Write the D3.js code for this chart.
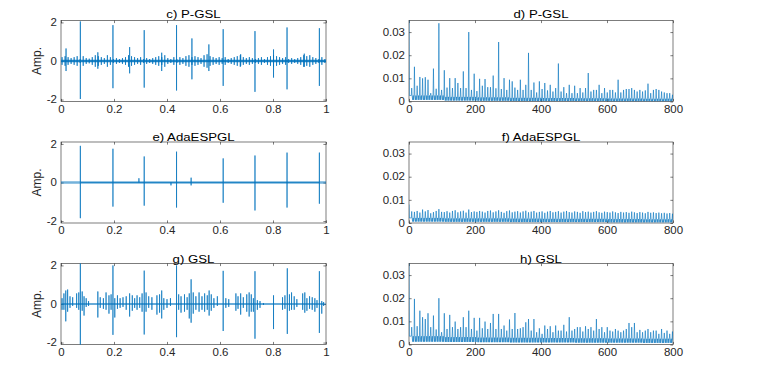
<!DOCTYPE html>
<html>
<head>
<meta charset="utf-8">
<title></title>
<style>
  body { margin: 0; background: #fff; }
  text { font-family: "Liberation Sans", Arial, Helvetica, sans-serif; }
</style>
</head>
<body>
<script src="https://d3js.org/d3.v7.min.js"></script>
<script type="text/javascript">

    // ticks and titles
    var timeTicks = [0, 0.2, 0.4, 0.6, 0.8, 1];
    var ampTicks = [-2, 0, 2];
    var freqTicks = [0, 200, 400, 600, 800];
    var specTicks = [0, 0.01, 0.02, 0.03];
    var timeTitles = ['c) P-GSL', 'e) AdaESPGL', 'g) GSL'];
    var specTitles = ['d) P-GSL', 'f) AdaESPGL', 'h) GSL'];

    // time signals: stems as [t, max, min]
    var pgslStems = [
        [0.019, 0.65, -0.52], [0.073, 2.05, -1.97], [0.139, 0.45, -0.4], [0.196, 1.86, -1.41],
        [0.259, 0.72, -0.64], [0.314, 1.6, -1.38], [0.380, 0.43, -0.52], [0.436, 1.86, -1.53],
        [0.494, 1.17, -0.95], [0.558, 0.86, -0.52], [0.612, 1.65, -1.29], [0.678, 0.35, -0.25],
        [0.732, 1.55, -1.6], [0.802, 0.6, -0.86], [0.853, 1.74, -1.47], [0.918, 0.38, -0.3],
        [0.975, 1.7, -1.29]
    ];
    // small ripple between the impulses (one tick every rippleStep s)
    var rippleStart = 0.004;
    var rippleStep = 0.0114;
    var pgslRipple = [
        0.2, 0.25, 0.2, 0.15, 0.2, 0.25, 0.1, 0.25, 0.15, 0.12,
        0.2, 0.3, 0.25, 0.2, 0.15, 0.3, 0.2, 0.1, 0.15, 0.1,
        0.15, 0.2, 0.3, 0.25, 0.2, 0.15, 0.2, 0.1, 0.15, 0.1,
        0.15, 0.2, 0.25, 0.2, 0.3, 0.15, 0.1, 0.2, 0.1, 0.2,
        0.15, 0.25, 0.3, 0.2, 0.25, 0.2, 0.15, 0.3, 0.35, 0.25,
        0.2, 0.15, 0.2, 0.15, 0.2, 0.1, 0.15, 0.2, 0.25, 0.3,
        0.2, 0.15, 0.2, 0.15, 0.1, 0.15, 0.2, 0.1, 0.2, 0.25,
        0.3, 0.25, 0.2, 0.15, 0.2, 0.1, 0.15, 0.1, 0.15, 0.2,
        0.3, 0.25, 0.3, 0.2, 0.15, 0.1, 0.2, 0.1
    ];
    var adaStems = [
        [0.073, 1.9, -1.85], [0.196, 1.75, -1.25], [0.294, 0.22, 0], [0.314, 1.35, -1.2],
        [0.415, 0, -0.15], [0.436, 1.6, -1.3], [0.491, 0.25, -0.15], [0.612, 1.25, -1.05],
        [0.732, 1.4, -1.45], [0.853, 1.55, -1.3], [0.975, 1.55, -1.1]
    ];
    var gslStems = [
        [0.004, 0.3, -0.3], [0.011, 0.55, -0.3], [0.018, 0.7, -0.9], [0.025, 0.75, -0.4],
        [0.034, 0.4, -0.2], [0.044, 0.35, -0.1], [0.059, 0.55, -0.2], [0.067, 0.6, -0.3],
        [0.073, 2.6, -2.6], [0.080, 0.65, -0.35], [0.087, 0.4, -0.6], [0.095, 0.3, -0.15],
        [0.104, 0.15, -0.1], [0.139, 0.65, -0.7], [0.148, 0.35, -0.2], [0.160, 0.3, -0.25],
        [0.170, 0.6, -0.3], [0.181, 0.45, -0.5], [0.189, 0.5, -0.3], [0.196, 2.0, -1.6],
        [0.203, 0.3, -0.7], [0.213, 0.45, -0.25], [0.223, 0.3, -0.2], [0.234, 0.35, -0.15],
        [0.246, 0.4, -0.3], [0.259, 0.55, -0.65], [0.269, 0.45, -0.35], [0.278, 0.3, -0.2],
        [0.287, 0.45, -0.3], [0.297, 0.35, -0.2], [0.306, 0.55, -0.4], [0.314, 1.73, -1.58],
        [0.321, 0.6, -0.4], [0.331, 0.4, -0.2], [0.343, 0.35, -0.3], [0.362, 0.45, -0.55],
        [0.372, 0.5, -0.45], [0.380, 0.7, -0.75], [0.388, 0.3, -0.3], [0.400, 0.25, -0.2],
        [0.413, 0.3, -0.1], [0.436, 2.0, -1.72], [0.444, 0.5, -0.3], [0.453, 0.4, -0.45],
        [0.466, 0.5, -0.4], [0.476, 0.35, -0.3], [0.484, 0.55, -0.75], [0.491, 1.28, -0.97],
        [0.499, 0.6, -0.5], [0.509, 0.4, -0.3], [0.521, 0.6, -0.4], [0.532, 0.4, -0.3],
        [0.542, 0.55, -0.4], [0.552, 0.45, -0.3], [0.559, 0.7, -0.6], [0.567, 0.5, -0.35],
        [0.577, 0.3, -0.2], [0.590, 0.4, -0.1], [0.612, 1.72, -1.4], [0.622, 0.3, -0.2],
        [0.633, 0.25, -0.15], [0.660, 0.55, -0.35], [0.668, 0.4, -0.25], [0.678, 0.55, -0.55],
        [0.688, 0.35, -0.2], [0.701, 0.5, -0.4], [0.710, 0.6, -0.65], [0.718, 0.5, -0.4],
        [0.726, 0.3, -0.4], [0.732, 1.7, -1.8], [0.741, 0.2, -0.3], [0.751, 0.15, -0.2],
        [0.764, 0.05, -0.05], [0.802, 0.45, -1.3], [0.836, 0.35, -0.3], [0.845, 0.45, -0.25],
        [0.854, 1.85, -1.55], [0.862, 0.5, -0.35], [0.870, 0.6, -0.3], [0.880, 0.4, -0.3],
        [0.890, 0.25, -0.15], [0.912, 0.55, -0.3], [0.920, 0.6, -0.45], [0.928, 0.3, -0.35],
        [0.938, 0.4, -0.25], [0.948, 0.35, -0.3], [0.958, 0.3, -0.4], [0.966, 0.2, -0.2],
        [0.975, 1.7, -1.5], [0.984, 0.15, -0.5], [0.991, 0.1, -0.1]
    ];

    // envelope spectra: one peak per harmonic of the fault frequency (Hz)
    var faultFreq = 8.23;
    var pgslPeaks = [
        0.0058, 0.015, 0.0068, 0.0106, 0.010, 0.0105, 0.0094, 0.0036, 0.0142, 0.0055,
        0.0338, 0.005, 0.0135, 0.006, 0.0101, 0.0058, 0.0101, 0.008, 0.0058, 0.013,
        0.0058, 0.030, 0.005, 0.012, 0.0045, 0.0098, 0.0068, 0.0097, 0.0062, 0.0062,
        0.0112, 0.0057, 0.0257, 0.0054, 0.0101, 0.005, 0.0094, 0.0087, 0.006, 0.005,
        0.0094, 0.005, 0.0072, 0.021, 0.005, 0.0082, 0.0039, 0.0087, 0.0054, 0.008,
        0.0048, 0.0072, 0.0043, 0.0058, 0.0164, 0.0043, 0.0062, 0.0036, 0.0072, 0.0036,
        0.0068, 0.0036, 0.0058, 0.0039, 0.0058, 0.0123, 0.0043, 0.005, 0.005, 0.0072,
        0.0036, 0.0058, 0.0039, 0.005, 0.005, 0.0039, 0.0094, 0.0039, 0.005, 0.0054,
        0.0054, 0.0058, 0.005, 0.0043, 0.005, 0.0043, 0.0048, 0.0077, 0.0036, 0.005,
        0.0054, 0.005, 0.0043, 0.0039, 0.0036, 0.0036, 0.0029
    ];
    var adaPeaks = [
        0.0050, 0.0048, 0.0052, 0.0045, 0.0058, 0.0050, 0.0056, 0.0042, 0.0047, 0.0052,
        0.0060, 0.0048, 0.0047, 0.0051, 0.0045, 0.0052, 0.0055, 0.0046, 0.0050, 0.0053,
        0.0045, 0.0058, 0.0047, 0.0050, 0.0048, 0.0052, 0.0049, 0.0045, 0.0052, 0.0054,
        0.0046, 0.0050, 0.0055, 0.0048, 0.0044, 0.0051, 0.0054, 0.0046, 0.0049, 0.0051,
        0.0045, 0.0050, 0.0053, 0.0046, 0.0049, 0.0052, 0.0045, 0.0048, 0.0050, 0.0044,
        0.0049, 0.0052, 0.0046, 0.0048, 0.0051, 0.0045, 0.0049, 0.0052, 0.0047, 0.0045,
        0.0050, 0.0048, 0.0044, 0.0051, 0.0047, 0.0049, 0.0045, 0.0048, 0.0051, 0.0046,
        0.0044, 0.0049, 0.0047, 0.0045, 0.0050, 0.0046, 0.0043, 0.0048, 0.0045, 0.0047,
        0.0044, 0.0049, 0.0046, 0.0043, 0.0047, 0.0045, 0.0042, 0.0048, 0.0044, 0.0046,
        0.0043, 0.0045, 0.0042, 0.0044, 0.0041, 0.0043, 0.0040
    ];
    var gslPeaks = [
        0.0075, 0.0197, 0.0079, 0.0146, 0.0118, 0.0110, 0.0135, 0.0075, 0.0125, 0.0065,
        0.0200, 0.0053, 0.0135, 0.0067, 0.0128, 0.0075, 0.0099, 0.0067, 0.0075, 0.0118,
        0.0075, 0.0146, 0.0067, 0.0115, 0.0060, 0.0115, 0.0070, 0.0099, 0.0067, 0.0093,
        0.0132, 0.0067, 0.0132, 0.0067, 0.0082, 0.0060, 0.0108, 0.0067, 0.0136, 0.0067,
        0.0070, 0.0075, 0.0096, 0.0110, 0.0060, 0.0110, 0.0053, 0.0070, 0.0046, 0.0082,
        0.0067, 0.0079, 0.0053, 0.0082, 0.0060, 0.0060, 0.0085, 0.0056, 0.0118, 0.0060,
        0.0067, 0.0075, 0.0075, 0.0056, 0.0079, 0.0067, 0.0075, 0.0060, 0.0110, 0.0067,
        0.0075, 0.0053, 0.0075, 0.0060, 0.0056, 0.0067, 0.0060, 0.0053, 0.0060, 0.0067,
        0.0093, 0.0075, 0.0093, 0.0053, 0.0063, 0.0053, 0.0060, 0.0067, 0.0053, 0.0060,
        0.0060, 0.0046, 0.0067, 0.0050, 0.0060, 0.0046, 0.0056
    ];
    // noise floor and dips between harmonics, per 100 Hz band
    var pgslFloor = [0.0026, 0.002, 0.0018, 0.0016, 0.0015, 0.0014, 0.0013, 0.0012];
    var pgslDip = [0.0007, 0.0004, 0.0003, 0.0002, 0.0002, 0.0002, 0.0001, 0.0001];
    var adaFloor = [0.0022, 0.002, 0.002, 0.0019, 0.0018, 0.0018, 0.0017, 0.0016];
    var adaDip = [0.0006, 0.0005, 0.0005, 0.0004, 0.0004, 0.0004, 0.0003, 0.0003];
    var gslFloor = [0.0036, 0.0032, 0.003, 0.0029, 0.0028, 0.0027, 0.0026, 0.0025];
    var gslDip = [0.0012, 0.0011, 0.001, 0.0009, 0.0009, 0.0008, 0.0008, 0.0007];
    var dcLevel = [0.036, 0.008, 0.036];

    var blue = '#0072BD';
    var axisColor = '#262626';
    var colX = [[61, 326], [409, 673]];
    var rowTop = [20.5, 142, 263.5];
    var titleGap = [3, 1.5, 0.8];
    var plotH = 81;
    var tickLen = 2.6;
    var stretch = 1.15;

    var svg = d3.select('body')
                .append('svg')
                    .attr('width', 766)
                    .attr('height', 370);

    // labels in the reference are slightly wider than tall
    function widen(sel) {
        sel.each(function() {
            var t = d3.select(this);
            var x = +t.attr('x') || 0, y = +t.attr('y') || 0;
            t.attr('x', 0).attr('y', 0)
             .attr('transform', 'translate(' + x + ',' + y + ') scale(' + stretch + ',1)');
        });
    }

    function drawAxes(x, y, xTicks, yTicks, id) {
        var g = svg.append('g').attr('color', axisColor);
        var x0 = x.range()[0], x1 = x.range()[1], y0 = y.range()[0], y1 = y.range()[1];
        var fmt = function(d) { return String(d); };

        g.append('g').attr('transform', 'translate(0,' + y0 + ')')
            .call(d3.axisBottom(x).tickValues(xTicks).tickSizeInner(-tickLen).tickSizeOuter(0)
                  .tickPadding(4).tickFormat(fmt));
        g.append('g').attr('transform', 'translate(0,' + y1 + ')')
            .call(d3.axisTop(x).tickValues(xTicks).tickSizeInner(-tickLen).tickSizeOuter(0)
                  .tickFormat(''));
        g.append('g').attr('transform', 'translate(' + x0 + ',0)')
            .call(d3.axisLeft(y).tickValues(yTicks).tickSizeInner(-tickLen).tickSizeOuter(0)
                  .tickPadding(4).tickFormat(fmt));
        g.append('g').attr('transform', 'translate(' + x1 + ',0)')
            .call(d3.axisRight(y).tickValues(yTicks).tickSizeInner(-tickLen).tickSizeOuter(0)
                  .tickFormat(''));

        g.selectAll('.domain').remove();
        g.selectAll('.tick line').attr('stroke-width', 0.6);
        g.selectAll('.tick text')
            .attr('font-family', '"Liberation Sans", Arial, sans-serif')
            .attr('font-size', 10)
            .attr('fill', axisColor)
            .call(widen);

        g.append('rect')
            .attr('x', x0).attr('y', y1)
            .attr('width', x1 - x0).attr('height', y0 - y1)
            .attr('fill', 'none')
            .attr('stroke', axisColor)
            .attr('stroke-width', 0.6);

        svg.append('clipPath').attr('id', id)
            .append('rect')
            .attr('x', x0).attr('y', y1)
            .attr('width', x1 - x0).attr('height', y0 - y1);
    }

    function addTitle(x, y, label, r) {
        svg.append('text')
            .attr('x', (x.range()[0] + x.range()[1]) / 2)
            .attr('y', y.range()[1] - titleGap[r])
            .attr('text-anchor', 'middle')
            .attr('font-size', 11.5)
            .attr('fill', '#000')
            .text(label)
            .call(widen);
    }

    function stemPoints(stems) {
        var pts = [];
        stems.forEach(function(s) {
            pts.push([s[0], 0], [s[0], s[1]], [s[0], s[2]], [s[0], 0]);
        });
        return pts;
    }

    function specPoints(peaks, floor, dip, dc) {
        var f = faultFreq;
        var band = function(k) { return Math.min(7, Math.floor(k / 100)); };
        var pts = [[0, dc], [1, floor[0]]];
        peaks.forEach(function(p, i) {
            var k = (i + 1) * f, b = band(k);
            pts.push([k - 0.15 * f, floor[b]], [k, p], [k + 0.15 * f, floor[b]],
                     [k + 0.35 * f, dip[b]], [k + 0.55 * f, floor[b]], [k + 0.7 * f, dip[b]]);
        });
        pts.push([800, floor[7]]);
        return pts;
    }

    // time-domain panels
    var timeStems = [
        stemPoints(pgslStems.concat(pgslRipple.map(function(a, i) {
            return [rippleStart + i * rippleStep, a, -a];
        })).sort(function(a, b) { return a[0] - b[0]; })),
        stemPoints(adaStems),
        stemPoints(gslStems)
    ];
    var baseWidth = [2.4, 2.6, 1.2];
    var baseOpacity = [0.8, 0.55, 0.75];

    timeStems.forEach(function(pts, r) {
        var x = d3.scaleLinear().domain([0, 1]).range(colX[0]);
        var y = d3.scaleLinear().domain([-2.1, 2.1]).range([rowTop[r] + plotH, rowTop[r]]);
        var id = 'clipT' + r;
        drawAxes(x, y, timeTicks, ampTicks, id);

        var line = d3.line().x(function(d) { return x(d[0]); }).y(function(d) { return y(d[1]); });
        var g = svg.append('g').attr('clip-path', 'url(#' + id + ')');
        g.append('path')
            .attr('d', line([[0, 0], [1, 0]]))
            .attr('fill', 'none')
            .attr('stroke', blue)
            .attr('stroke-opacity', baseOpacity[r])
            .attr('stroke-width', baseWidth[r]);
        g.append('path')
            .attr('d', line(pts))
            .attr('fill', 'none')
            .attr('stroke', blue)
            .attr('stroke-width', 0.7);

        addTitle(x, y, timeTitles[r], r);
        svg.append('text')
            .attr('transform', 'translate(41,' + (rowTop[r] + plotH / 2) + ') rotate(-90)')
            .attr('text-anchor', 'middle')
            .attr('font-size', 12)
            .attr('fill', axisColor)
            .text('Amp.');
    });

    // spectrum panels
    var specs = [
        specPoints(pgslPeaks, pgslFloor, pgslDip, dcLevel[0]),
        specPoints(adaPeaks, adaFloor, adaDip, dcLevel[1]),
        specPoints(gslPeaks, gslFloor, gslDip, dcLevel[2])
    ];

    specs.forEach(function(pts, r) {
        var x = d3.scaleLinear().domain([0, 800]).range(colX[1]);
        var y = d3.scaleLinear().domain([0, 0.035]).range([rowTop[r] + plotH, rowTop[r]]);
        var id = 'clipS' + r;
        drawAxes(x, y, freqTicks, specTicks, id);

        var line = d3.line().x(function(d) { return x(d[0]); }).y(function(d) { return y(d[1]); });
        svg.append('g').attr('clip-path', 'url(#' + id + ')')
            .append('path')
            .attr('d', line(pts))
            .attr('fill', 'none')
            .attr('stroke', blue)
            .attr('stroke-width', 0.6);

        addTitle(x, y, specTitles[r], r);
    });

</script>
</body>
</html>
